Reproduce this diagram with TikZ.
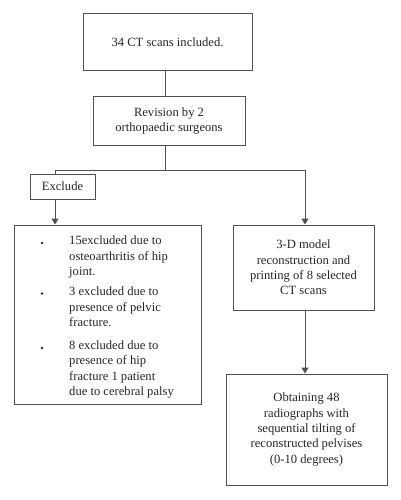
\documentclass[tikz,border=0pt]{standalone}
\usepackage{fontspec}
\setmainfont{Liberation Serif}
\usetikzlibrary{arrows.meta}
\definecolor{linec}{HTML}{505050}
\definecolor{textc}{HTML}{252525}
\begin{document}
\begin{tikzpicture}[x=1pt,y=-1pt,
  box/.style={draw=linec, line width=1pt, inner sep=0pt, align=center,
    font=\fontsize{12.6}{15.3}\selectfont, text=textc},
  txt/.style={inner sep=0pt, align=left, anchor=west,
    font=\fontsize{12.6}{15.3}\selectfont, text=textc},
  dot/.style={circle, fill=textc, inner sep=0pt, minimum size=2.8pt},
  conn/.style={draw=linec, line width=1pt},
  arr/.style={conn, -{Triangle[width=7pt,length=6pt]}}]
\useasboundingbox (0,0) rectangle (401,500);
\node[box, minimum width=169pt, minimum height=57pt] (b1) at (167.5,42.5) {34 CT scans included.};
\node[box, minimum width=152pt, minimum height=48pt] (b2) at (169,121) {Revision by 2\\orthopaedic surgeons};
\node[box, minimum width=65pt, minimum height=25pt] (ex) at (62.5,186.5) {Exclude};
\node[box, minimum width=187pt, minimum height=179pt] (lb) at (107.5,314.5) {};
\node[box, minimum width=141pt, minimum height=85pt] (rb) at (303.5,267.5) {3-D model\\reconstruction and\\printing of 8 selected\\CT scans};
\node[box, minimum width=161pt, minimum height=111pt] (bb) at (306.5,429.5) {Obtaining 48\\radiographs with\\sequential tilting of\\reconstructed pelvises\\(0-10 degrees)};
\node[dot] (d1) at (42,243) {};
\node[dot] (d2) at (42,293.5) {};
\node[dot] (d3) at (42,348) {};
\node[txt] (i1) at (69,257) {15excluded due to\\osteoarthritis of hip\\joint.};
\node[txt] (i2) at (69,307) {3 excluded due to\\presence of pelvic\\fracture.};
\node[txt] (i3) at (69,369.5) {8 excluded due to\\presence of hip\\fracture 1 patient\\due to cerebral palsy};
\coordinate (j) at (165,170);
\coordinate (jl) at (55,170);
\coordinate (jr) at (305,170);
\draw[conn] (b1.south -| j) -- (b2.north -| j);
\draw[conn] (b2.south -| j) -- (j);
\draw[conn] (jl) -- (jr);
\draw[conn] (jl) -- (ex.north -| jl);
\draw[arr] (ex.south -| jl) -- (lb.north -| jl);
\draw[arr] (jr) -- (rb.north -| jr);
\draw[arr] (rb.south -| jr) -- (bb.north -| jr);
\end{tikzpicture}
\end{document}
